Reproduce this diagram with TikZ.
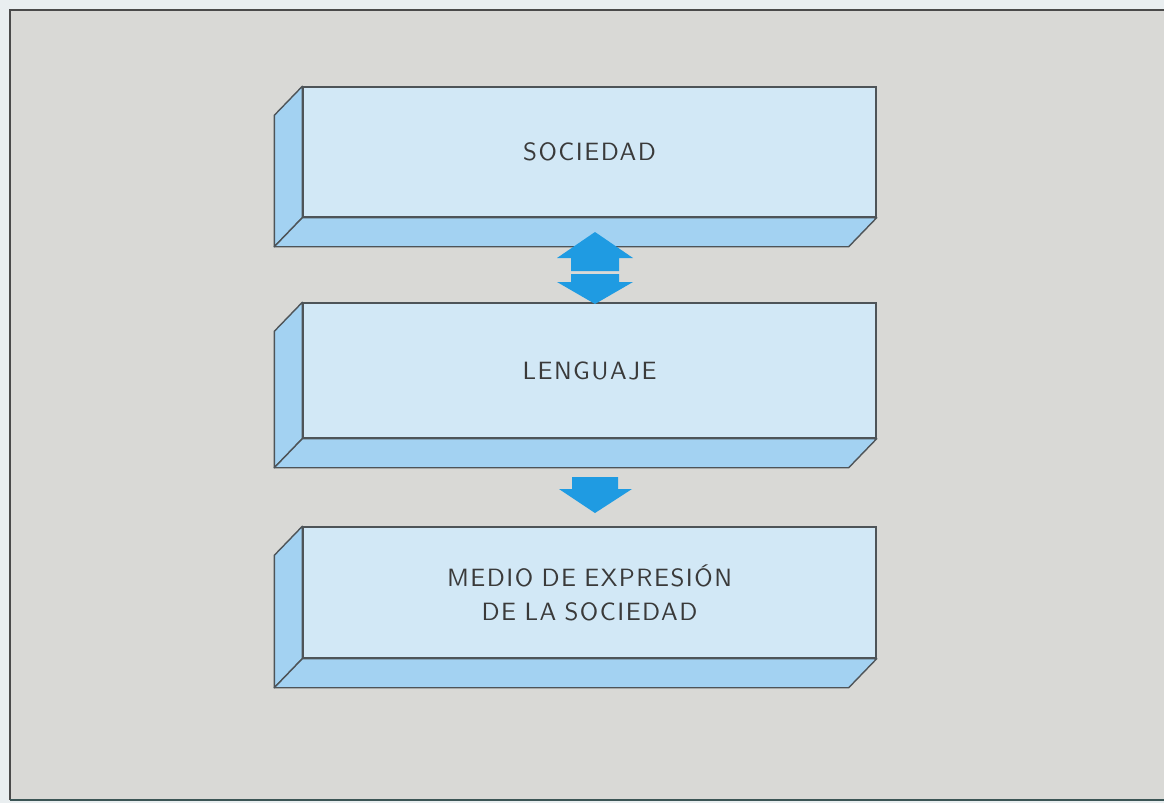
\documentclass[tikz,border=0pt]{standalone}
\usepackage{fontspec}
\newfontfamily\boxfont{lmsans10-regular.otf}[LetterSpace=6,WordSpace=0.85]
\definecolor{paper}{HTML}{D9D9D6}
\definecolor{outside}{HTML}{E9EEF0}
\definecolor{framec}{HTML}{4A4A4A}
\definecolor{frontc}{HTML}{D2E8F6}
\definecolor{sidec}{HTML}{A3D2F2}
\definecolor{edgec}{HTML}{4E5458}
\definecolor{arrowc}{HTML}{1F9BE2}
\definecolor{textc}{HTML}{3A3A3A}
\tikzset{
  frontbox/.style={draw=edgec, line width=1.4pt, fill=frontc, minimum width=573pt,
    inner sep=0pt, text=textc, align=center,
    font=\boxfont\fontsize{25}{34}\selectfont},
  sideface/.style={draw=edgec, line width=1.4pt, fill=sidec, line join=round},
  blockarrow/.style={fill=arrowc, draw=none}
}
\begin{document}
\begin{tikzpicture}[x=1pt,y=-1pt]
\useasboundingbox (0,0) rectangle (1164,803);
\fill[outside] (0,0) rectangle (1164,803);
\fill[paper] (10,10) rectangle (1164,800);
\draw[framec, line width=2.5pt] (1164,10) -- (10,10) -- (10,800);
\draw[framec!80!teal, line width=2.5pt] (10,800) -- (1164,800);

% boxes
\node[frontbox, minimum height=130pt] (b1) at (589.5,152) {SOCIEDAD};
\node[frontbox, minimum height=135pt] (b2) at (589.5,370.5) {LENGUAJE};
\node[frontbox, minimum height=131pt] (b3) at (589.5,592.5) {MEDIO DE EXPRESIÓN\\DE LA SOCIEDAD};

\foreach \b in {b1,b2,b3}{
  \draw[sideface] (\b.north west) -- ++(-28,29) -- ([xshift=-28pt,yshift=-29pt]\b.south west) -- (\b.south west) -- cycle;
  \draw[sideface] (\b.south west) -- ++(-28,29) -- ([xshift=-28pt,yshift=-29pt]\b.south east) -- (\b.south east) -- cycle;
}

% double arrow between b1 and b2
\fill[blockarrow] (595,232) -- (633,258) -- (619,258) -- (619,271) -- (571,271) -- (571,258) -- (557,258) -- cycle;
\fill[blockarrow] (571,274) -- (619,274) -- (619,282) -- (633,282) -- (595,304) -- (557,282) -- (571,282) -- cycle;

% down arrow between b2 and b3
\fill[blockarrow] (572,477) -- (618,477) -- (618,489) -- (632,489) -- (595,513) -- (559,489) -- (572,489) -- cycle;
\end{tikzpicture}
\end{document}
